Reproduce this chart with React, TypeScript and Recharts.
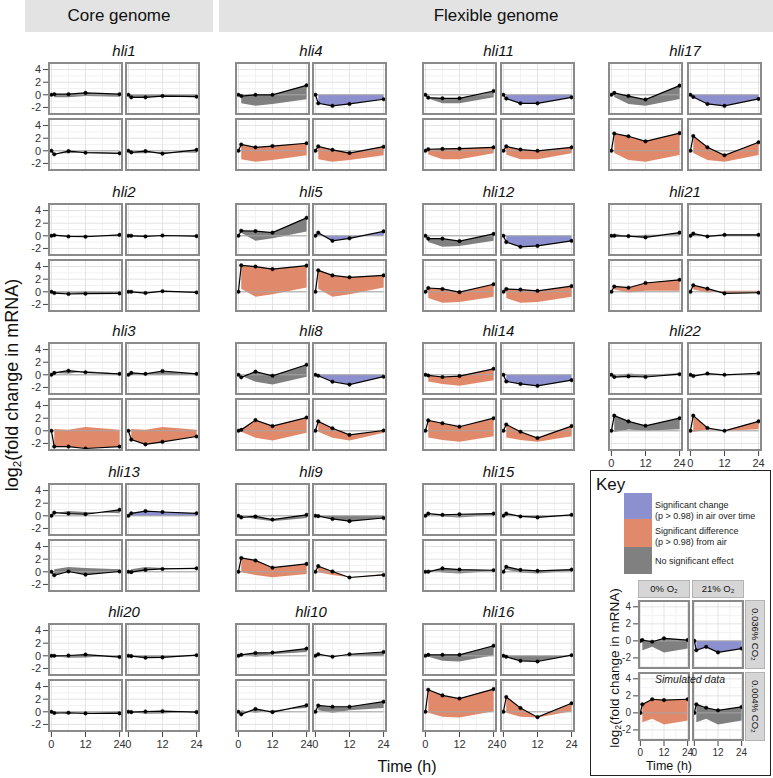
import React from 'react';
import { ComposedChart, Line, Area, XAxis, YAxis, CartesianGrid } from 'recharts';

const FONT = '"Liberation Sans", Arial, Helvetica, sans-serif';

// time points (h) and axis ticks
const times = [0, 1, 6, 12, 24];
const xTicks = [0, 12, 24];
const yTicks = [-2, 0, 2, 4];
const xMinor = [6, 18];
const yMinor = [-3, -1, 1, 3, 5];

// Each gene: [0% O2 / 0.036% CO2, 21% O2 / 0.036% CO2 (air), 0% O2 / 0.004% CO2, 21% O2 / 0.004% CO2]
// Significance per panel: n = no effect (grey), b = change in air (blue), o = difference from air (orange)
const hli1 = [[0, 0.1, 0.1, 0.3, 0.1], [0, -0.4, -0.4, -0.2, -0.3], [0, -0.55, -0.05, -0.3, -0.4], [0, -0.25, -0.05, -0.45, 0.15]];
const hli1Sig = ['n', 'n', 'n', 'n'];
const hli2 = [[0, 0.1, -0.1, -0.15, 0.15], [0, 0, -0.1, 0.05, -0.05], [0, -0.2, -0.35, -0.3, -0.25], [0, 0, -0.2, 0.1, -0.1]];
const hli2Sig = ['n', 'n', 'n', 'n'];
const hli3 = [[0, 0.3, 0.65, 0.4, 0.15], [0, 0.3, 0.15, 0.6, 0.15], [0, -2.5, -2.5, -2.8, -2.5], [0, -1.4, -2.15, -1.75, -0.9]];
const hli3Sig = ['n', 'n', 'o', 'o'];
const hli13 = [[0, 0.5, 0.35, 0.25, 0.95], [0, 0.4, 0.75, 0.6, 0.4], [0, -0.55, 0.05, -0.45, 0.05], [0, -0.05, 0.3, 0.45, 0.55]];
const hli13Sig = ['n', 'b', 'n', 'n'];
const hli20 = [[0, 0, 0.05, 0.2, -0.2], [0, -0.05, -0.3, -0.25, 0.1], [0, -0.2, -0.15, -0.25, -0.25], [0, -0.05, 0.05, 0.1, -0.05]];
const hli20Sig = ['n', 'n', 'n', 'n'];

const hli4 = [[0, -0.2, 0, 0, 1.5], [0, -1.35, -1.75, -1.45, -0.7], [0, 1.0, 0.55, 0.75, 1.2], [0, 0.7, 0.15, -0.35, 0.65]];
const hli4Sig = ['n', 'b', 'o', 'o'];
const hli5 = [[0, 0.8, 0.75, 0.5, 2.85], [0, 0.5, -0.8, -0.4, 0.7], [0, 4.2, 4.0, 3.6, 4.15], [0, 3.4, 2.6, 2.3, 2.6]];
const hli5Sig = ['n', 'b', 'o', 'o'];
const hli8 = [[0, -0.4, 0.5, -0.15, 1.6], [0, -0.15, -1.1, -1.55, -0.3], [0, 0.15, 1.7, 0.75, 2.1], [0, 1.5, 0.4, -0.65, 0.05]];
const hli8Sig = ['n', 'b', 'o', 'o'];
const hli9 = [[0, -0.25, -0.1, -0.6, 0.15], [0, -0.05, -0.5, -0.85, -0.35], [0, 2.2, 1.8, 0.65, 1.25], [0, 0.9, 0.05, -0.9, -0.5]];
const hli9Sig = ['n', 'n', 'o', 'o'];
const hli10 = [[0, 0.15, 0.45, 0.5, 1.15], [0, 0.25, -0.15, 0.25, 0.6], [0, -0.4, 0.45, -0.05, 1.05], [0, 1.0, 0.8, 0.8, 1.6]];
const hli10Sig = ['n', 'n', 'n', 'n'];

const hli11 = [[0, -0.45, -0.55, -0.55, 0.6], [0, -0.6, -1.35, -1.35, -0.4], [0, 0.25, 0.3, 0.35, 0.55], [0, 0.7, 0.2, 0, 0.55]];
const hli11Sig = ['n', 'b', 'o', 'o'];
const hli12 = [[0, -0.45, -0.45, -0.85, 0.3], [0, -1.0, -1.75, -1.6, -0.8], [0, 0.6, 0.45, -0.05, 1.2], [0, 0.45, 0.35, 0.15, 0.9]];
const hli12Sig = ['n', 'b', 'o', 'o'];
const hli14 = [[0, -0.1, -0.35, -0.2, 0.95], [0, -1.05, -1.45, -1.75, -0.85], [0, 1.65, 1.2, 0.65, 2.0], [0, 1.0, -0.15, -1.15, 0.75]];
const hli14Sig = ['o', 'b', 'o', 'o'];
const hli15 = [[0, 0.35, 0.15, 0.25, 0.35], [0, 0.35, -0.1, -0.25, 0.15], [0, 0, 0.55, 0.35, 0.25], [0, 0.8, 0.3, 0.15, 0.35]];
const hli15Sig = ['n', 'n', 'n', 'n'];
const hli16 = [[0, 0.15, 0.15, 0.15, 1.6], [0, -0.15, -0.8, -0.9, 0.1], [0, 3.5, 2.6, 2.1, 3.6], [0, 2.35, 0.6, -0.85, 1.35]];
const hli16Sig = ['n', 'n', 'o', 'o'];

const hli17 = [[0, 0.3, -0.2, -0.75, 1.45], [0, -0.35, -1.45, -1.75, -0.65], [0, 2.75, 2.3, 1.5, 2.8], [0, 2.35, 0.55, -0.7, 1.35]];
const hli17Sig = ['n', 'b', 'o', 'o'];
const hli21 = [[0, 0, -0.05, -0.25, 0.5], [0, 0.35, -0.1, 0.15, 0.15], [0, 0.85, 0.65, 1.4, 1.9], [0, 1.05, 0.5, -0.25, -0.15]];
const hli21Sig = ['n', 'n', 'o', 'o'];
const hli22 = [[0, -0.35, -0.25, -0.35, 0.1], [0, -0.2, 0.2, 0, 0.25], [0, 2.4, 1.5, 0.8, 2.0], [0, 2.4, 0.45, 0, 1.5]];
const hli22Sig = ['n', 'n', 'n', 'o'];

// Key (simulated data)
const keySim = [[0, 0.1, -0.1, 0.3, 0.1], [0, -1.1, -0.7, -1.35, -0.9], [0, 1.0, 1.6, 1.5, 1.6], [0, 1.0, 0.6, 0.3, 0.7]];
const keySimSig = ['n', 'b', 'o', 'n'];

const keyLabels = [
  ['Significant change', '(p > 0.98) in air over time'],
  ['Significant difference', '(p > 0.98) from air'],
  ['No significant effect'],
];
const keyLabelSig = ['b', 'o', 'n'];
const o2Labels = ['0% O₂', '21% O₂'];
const co2Labels = ['0.036% CO₂', '0.004% CO₂'];

const sigColor: Record<string, string> = { n: '#808080', b: '#8d90cf', o: '#e0896b' };

const columns = [
  [['hli1', hli1, hli1Sig], ['hli2', hli2, hli2Sig], ['hli3', hli3, hli3Sig], ['hli13', hli13, hli13Sig], ['hli20', hli20, hli20Sig]],
  [['hli4', hli4, hli4Sig], ['hli5', hli5, hli5Sig], ['hli8', hli8, hli8Sig], ['hli9', hli9, hli9Sig], ['hli10', hli10, hli10Sig]],
  [['hli11', hli11, hli11Sig], ['hli12', hli12, hli12Sig], ['hli14', hli14, hli14Sig], ['hli15', hli15, hli15Sig], ['hli16', hli16, hli16Sig]],
  [['hli17', hli17, hli17Sig], ['hli21', hli21, hli21Sig], ['hli22', hli22, hli22Sig]],
] as [string, number[][], string[]][][];

// layout
const colX = [48, 235, 422, 608];
const colDx = [77, 77, 78, 79];
const rowY = [62, 203, 342, 483, 623];
const PW = 75;
const PH = 53;
const PDY = 56;

type PanelProps = {
  left: number; top: number; w: number; h: number;
  vals: number[]; air: number[]; isAir: boolean; sig: string;
  showX: boolean; showY: boolean; yDomain: number[]; fs: number; yw: number; xh: number;
};

function Panel({ left, top, w, h, vals, air, isAir, sig, showX, showY, yDomain, fs, yw, xh }: PanelProps) {
  const data = times.map((t, i) => ({
    t,
    v: vals[i],
    z: 0,
    band: i === 0 ? null : [isAir ? 0 : air[i], vals[i]],
  }));
  const ax = showY ? yw : 0;
  const bx = showX ? xh : 0;
  const rx = showX ? 10 : 0;
  const tickStyle = { fontSize: fs, fill: '#333', fontFamily: FONT };
  return (
    <>
      <div style={{ position: 'absolute', left: left - ax, top, width: w + ax + rx, height: h + bx }}>
        <ComposedChart width={w + ax + rx} height={h + bx} data={data} margin={{ top: 0, right: rx, bottom: 0, left: 0 }}>
          <CartesianGrid stroke="#f2f2f2" horizontalValues={yMinor} verticalValues={xMinor} />
          <CartesianGrid stroke="#e3e3e3" horizontalValues={yTicks} verticalValues={xTicks} />
          <XAxis type="number" dataKey="t" domain={[-1.2, 25.2]} allowDataOverflow ticks={xTicks} interval={0}
            hide={!showX} height={xh} axisLine={false} tickLine={{ stroke: '#444' }} tickSize={5} tickMargin={3} tick={tickStyle} />
          <YAxis type="number" domain={yDomain} allowDataOverflow ticks={yTicks} interval={0}
            hide={!showY} width={yw} axisLine={false} tickLine={{ stroke: '#444' }} tickSize={5} tickMargin={2} tick={tickStyle} />
          <Area type="linear" dataKey="band" fill={sigColor[sig]} fillOpacity={1} stroke="none"
            dot={false} activeDot={false} isAnimationActive={false} />
          <Line type="linear" dataKey="z" stroke="#a6a6a6" strokeWidth={1} dot={false} activeDot={false} isAnimationActive={false} />
          <Line type="linear" dataKey="v" stroke="#000" strokeWidth={1.2}
            dot={{ r: 1.8, fill: '#000', stroke: '#000', strokeWidth: 0.4 }} activeDot={false} isAnimationActive={false} />
        </ComposedChart>
      </div>
      <div style={{ position: 'absolute', left, top, width: w, height: h, border: '2px solid #8a8a8a', boxSizing: 'border-box', pointerEvents: 'none' }} />
    </>
  );
}

function RotText({ cx, cy, size, children }: { cx: number; cy: number; size: number; children: React.ReactNode }) {
  return (
    <div style={{ position: 'absolute', left: cx, top: cy, transform: 'translate(-50%, -50%) rotate(-90deg)', whiteSpace: 'nowrap', fontSize: size, lineHeight: 1, color: '#111' }}>
      {children}
    </div>
  );
}

export default function App() {
  const panels: React.ReactNode[] = [];
  columns.forEach((col, ci) => {
    col.forEach(([name, vals, sig], ri) => {
      const lastRow = ri === col.length - 1;
      panels.push(
        <div key={name + 't'} style={{ position: 'absolute', left: colX[ci], top: rowY[ri] - 19, width: PW + colDx[ci], textAlign: 'center', fontStyle: 'italic', fontSize: 15, lineHeight: '16px', color: '#111' }}>
          {name}
        </div>
      );
      for (let k = 0; k < 4; k++) {
        const c = k % 2;
        const r = Math.floor(k / 2);
        panels.push(
          <Panel key={name + k}
            left={colX[ci] + c * colDx[ci]} top={rowY[ri] + r * PDY} w={PW} h={PH}
            vals={vals[k]} air={vals[1]} isAir={k === 1} sig={sig[k]}
            showX={lastRow && r === 1} showY={ci === 0 && c === 0}
            yDomain={[-3.2, 5.2]} fs={11} yw={26} xh={22} />
        );
      }
    });
  });

  const keyPanels: React.ReactNode[] = [];
  for (let k = 0; k < 4; k++) {
    const c = k % 2;
    const r = Math.floor(k / 2);
    keyPanels.push(
      <Panel key={'key' + k}
        left={638 + c * 54} top={600 + r * 72} w={52} h={69}
        vals={keySim[k]} air={keySim[1]} isAir={k === 1} sig={keySimSig[k]}
        showX={r === 1} showY={c === 0}
        yDomain={[-3.3, 4.8]} fs={10} yw={24} xh={18} />
    );
  }

  return (
    <div style={{ position: 'absolute', left: 0, top: 0, width: 773, height: 778, background: '#fff', overflow: 'hidden', fontFamily: FONT, color: '#111' }}>
      {/* header strips */}
      <div style={{ position: 'absolute', left: 25, top: 0, width: 188, height: 32, background: '#e3e3e3', fontSize: 17, lineHeight: '32px', textAlign: 'center' }}>Core genome</div>
      <div style={{ position: 'absolute', left: 219, top: 0, width: 554, height: 32, background: '#e3e3e3', fontSize: 17, lineHeight: '32px', textAlign: 'center' }}>Flexible genome</div>

      {panels}

      {/* axis titles */}
      <RotText cx={13} cy={385} size={18}>log<sub style={{ fontSize: '65%', verticalAlign: '-0.25em' }}>2</sub>(fold change in mRNA)</RotText>
      <div style={{ position: 'absolute', left: 357, top: 758, width: 100, textAlign: 'center', fontSize: 16, lineHeight: '18px' }}>Time (h)</div>

      {/* key */}
      <div style={{ position: 'absolute', left: 590, top: 470, width: 181, height: 306, border: '1.5px solid #222', boxSizing: 'border-box' }} />
      <div style={{ position: 'absolute', left: 596, top: 476, fontSize: 17, lineHeight: '18px' }}>Key</div>
      {keyLabelSig.map((s, i) => (
        <div key={'sw' + i} style={{ position: 'absolute', left: 624, top: [493, 519, 547][i], width: 28, height: [26, 28, 27][i], background: sigColor[s] }} />
      ))}
      {keyLabels.map((lines, i) => (
        <div key={'kl' + i} style={{ position: 'absolute', left: 655, top: [500, 526, 556][i], fontSize: 9, lineHeight: '11px', color: '#222', whiteSpace: 'nowrap' }}>
          {lines.map((l, j) => <div key={j}>{l}</div>)}
        </div>
      ))}
      {o2Labels.map((l, i) => (
        <div key={'o2' + i} style={{ position: 'absolute', left: 638 + i * 54, top: 580, width: 52, height: 18, background: '#d6d6d6', border: '1px solid #b3b3b3', boxSizing: 'border-box', fontSize: 9.5, lineHeight: '16px', textAlign: 'center' }}>{l}</div>
      ))}
      {co2Labels.map((l, i) => (
        <div key={'co2' + i} style={{ position: 'absolute', left: 745, top: 600 + i * 72, width: 20, height: 69, background: '#d6d6d6', border: '1px solid #b3b3b3', boxSizing: 'border-box', fontSize: 9.5, writingMode: 'vertical-rl', display: 'flex', alignItems: 'center', justifyContent: 'center', whiteSpace: 'nowrap' }}>{l}</div>
      ))}
      {keyPanels}
      <div style={{ position: 'absolute', left: 640, top: 673, width: 100, textAlign: 'center', fontStyle: 'italic', fontSize: 10.5, lineHeight: '12px', color: '#222' }}>Simulated data</div>
      <RotText cx={615} cy={668} size={13.5}>log<sub style={{ fontSize: '65%', verticalAlign: '-0.25em' }}>2</sub>(fold change in mRNA)</RotText>
      <div style={{ position: 'absolute', left: 634, top: 759, width: 70, textAlign: 'center', fontSize: 12.5, lineHeight: '14px' }}>Time (h)</div>
    </div>
  );
}
